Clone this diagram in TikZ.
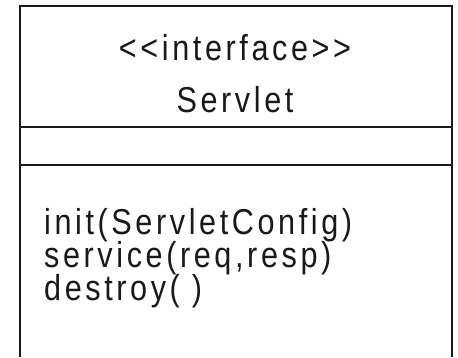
\documentclass[tikz,border=0pt]{standalone}
\usepackage{fontspec}
\setmainfont{Liberation Sans}[FakeStretch=0.85,LetterSpace=10]
\begin{document}
\begin{tikzpicture}[x=1pt,y=-1pt,
  frame/.style={line width=1.8pt,draw=black!90},
  label/.style={inner sep=0pt,font=\fontsize{36}{32}\selectfont,text=black!90}]
\useasboundingbox (0,0) rectangle (458,357);
% class frame, open at the bottom edge
\draw[frame] (20,357) -- (20,6) -- (452,6) -- (452,357);
\draw[frame] (20,127) -- (452,127);
\draw[frame] (20,165) -- (452,165);
% name compartment
\node[label,anchor=base] (stereo) at (235,60) {<{}<interface>{}>};
\node[label,anchor=base] (name) at (235,112) {Servlet};
% operations compartment
\node[label,anchor=base west] (op1) at (44,234) {init(ServletConfig)};
\node[label,anchor=base west] (op2) at (44,267) {service(req,resp)};
\node[label,anchor=base west] (op3) at (44,300) {destroy( )};
\end{tikzpicture}
\end{document}
